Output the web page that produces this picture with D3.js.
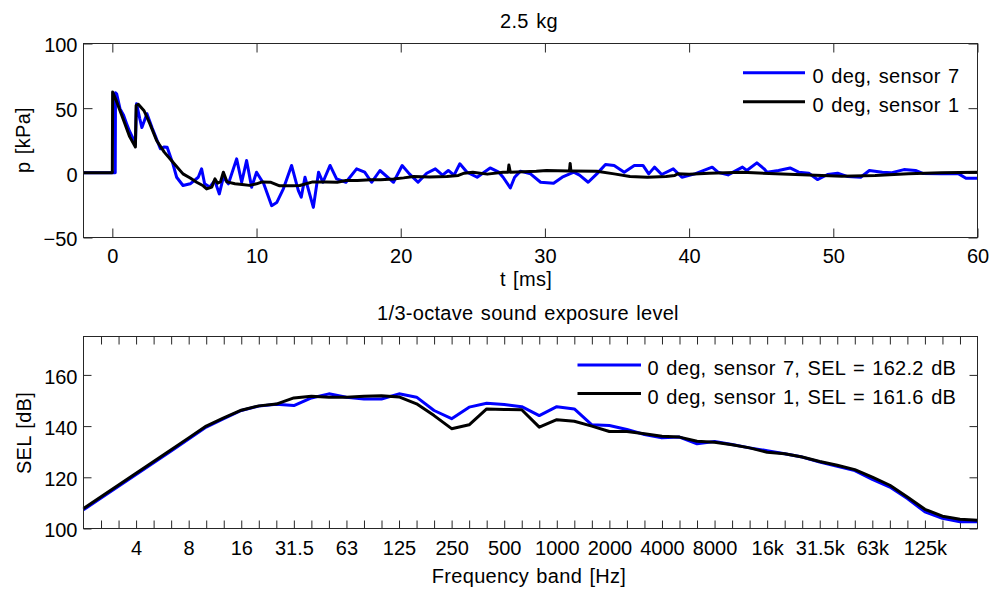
<!DOCTYPE html>
<html><head><meta charset="utf-8">
<script src="https://cdn.jsdelivr.net/npm/d3@7"></script>
<style>
body{margin:0;background:#fff;}
svg text{font-family:"Liberation Sans",Arial,Helvetica,sans-serif;fill:#000;}
</style></head><body>
<svg id="chart" width="990" height="590"></svg>
<script>
// ---------- Data: time histories (top) ----------
const seriesNames = ["0 deg, sensor 7", "0 deg, sensor 1"];
const selNames = ["0 deg, sensor 7, SEL = 162.2 dB", "0 deg, sensor 1, SEL = 161.6 dB"];

const t7 = [-2,0.2,0.22,0.3,0.53,0.76,0.99,1.2,1.46,1.6,1.68,1.9,2.05,2.4,2.75,3.0,3.33,3.6,3.8,4.2,4.46,4.9,5.4,5.96,6.19,6.4,6.75,7.1,7.42,7.7,8.05,8.62,8.97,9.31,9.66,10.0,10.5,11.05,11.4,11.86,12.43,12.9,13.1,13.36,13.94,14.3,14.6,15.1,15.55,16.2,16.94,17.5,17.98,18.56,19.5,20.1,20.6,21.2,21.8,22.4,22.9,23.3,23.7,24.1,24.6,25.3,26.2,26.8,27.1,27.6,27.9,28.3,29.0,29.7,30.6,31.2,32.0,32.4,33.0,33.6,34.2,34.8,35.5,36.2,36.8,37.2,37.6,38.1,38.9,39.5,40.4,41.6,42.0,42.7,43.7,44.0,44.7,45.2,45.4,46.2,47.0,47.6,48.3,48.9,49.6,50.3,51.0,51.9,52.5,53.4,54.0,54.9,55.7,56.2,57.5,58.7,59.2,60];
const p7 = [0,0,62,61,49.6,45,38,32,26,22,53.5,42,35,45.7,35,28,18.6,20,19.8,7,-3.4,-9.8,-8.5,-3.4,3.1,-8.5,-11,-6,-16.3,-3.4,-8.5,10.8,-7.3,9.5,-11.1,0.5,-8.5,-25.4,-23,-12.4,5.7,-13.7,-18.8,-3.4,-26.7,0.5,-7.3,5.7,-4.7,-7.3,3.1,0.5,-7.3,1.8,-7.3,5.7,-0.8,-7.3,-0.3,3.1,-1.8,1.8,-1.8,7,0.5,-3.4,3.8,0.5,-3.4,-11.7,-3.4,1.3,-0.8,-7.3,-8,-3.4,0.5,-1.8,-7.3,-0.8,6.4,5.7,0.5,5.7,5.7,-0.8,4.4,-1.3,3.1,-3.4,-0.8,4.4,0.5,-1.6,4.4,1.8,7.7,3.1,0.5,1.8,3.8,0.5,-0.3,-5.2,-1.3,-0.3,-2.9,-3.4,1.8,0.5,0,2.5,1.8,-0.5,-0.8,-0.8,-4.2,-4.2];

const t1 = [-2,0,0.02,0.3,0.8,1.2,1.6,1.65,1.8,2.2,2.6,3.07,3.6,4.1,4.9,5.4,5.85,6.3,6.54,6.9,7.0,7.12,7.3,7.5,7.7,7.95,8.5,9.0,9.5,10.0,10.4,11.0,11.6,12.5,13.0,13.9,14.8,15.6,16.2,17.0,17.9,18.6,19.5,20.2,20.9,22.0,23.2,24.0,24.4,25.0,26.0,27.1,27.45,27.5,27.6,29.4,30.1,31.7,31.75,31.8,31.9,33.6,34.8,35.9,37.1,38.4,39.0,39.2,40.0,41.4,43.7,46.0,48.3,50.6,52.9,55.2,57.5,60];
const p1 = [0,0,62.5,55,40,28,20,52,53,48,38,25,16,9.5,-0.8,-4,-7.3,-10,-12.4,-11,-8,-4.7,-8,-7,0.5,-7,-8.5,-9,-9.7,-8.5,-7,-7.3,-10,-10,-9.8,-7,-7,-7.3,-6,-6,-5.4,-5.4,-4.7,-3.9,-2.9,-3.2,-2.9,-2,-0.3,0.5,-1,0.5,0.5,6,0.5,1.3,1.8,1.5,7.3,1.5,1.5,1.3,-0.8,-2.9,-3.4,-2.9,-2.1,-0.8,-1,-0.3,0.5,-0.8,-1.6,-2.6,-2.1,-0.8,0,0.5];

const tTicks = [0,10,20,30,40,50,60];
const pTicks = [-50,0,50,100];

// ---------- Data: 1/3-octave SEL (bottom) ----------
// band index relative to the 4 Hz band: -3 (2 Hz) ... 48
const bandIdx = d3.range(-3, 49);
const sel7 = [107.3,111.9,116.5,121.1,125.7,130.3,135.0,139.6,142.9,146.1,147.8,148.5,148.0,151.0,152.6,151.3,150.6,150.6,152.6,151.3,146.1,142.9,147.4,148.9,148.4,147.6,144.1,147.6,146.7,140.5,140.2,138.7,136.7,135.4,135.7,133.1,134.0,132.8,131.5,130.4,129.2,127.9,126.0,124.3,122.6,119.2,116.2,111.7,106.5,104.0,102.6,102.6];
const sel1 = [107.8,112.4,117.0,121.6,126.2,130.8,135.4,140.0,143.2,146.2,147.9,148.6,151.0,151.7,151.3,151.3,151.7,151.9,151.4,148.7,144.1,139.0,140.5,146.7,146.5,146.4,139.6,142.5,141.9,140.0,137.9,137.9,137.0,136.0,135.7,134.1,133.7,132.7,131.5,129.8,129.2,127.9,126.2,124.7,123.0,120.1,116.9,112.3,107.5,104.8,103.6,103.2];
const bandLabels = ["4","8","16","31.5","63","125","250","500","1000","2000","4000","8000","16k","31.5k","63k","125k"];
const selTicks = [100,120,140,160];

const colors = ["#0000ff", "#000000"];

// ---------- Drawing ----------
const svg = d3.select("#chart");
svg.append("rect").attr("width",990).attr("height",590).attr("fill","#fff");
const FS = 20;
const axisColor = "#262626";
const LW = 3;

function styleAxis(g){
  g.select(".domain").remove();
  g.selectAll(".tick line").attr("stroke",axisColor).attr("stroke-width",1);
  g.selectAll("text").attr("font-size",FS).attr("font-family",'"Liberation Sans",Arial,sans-serif').attr("fill","#000");
}

function frame(L,R,T,B){
  svg.append("rect").attr("x",L).attr("y",T).attr("width",R-L).attr("height",B-T)
    .attr("fill","none").attr("stroke",axisColor).attr("stroke-width",1);
}

// Top panel
const T = {L:83.5, R:977.5, T:43.5, B:237.5};
const xT = d3.scaleLinear().domain([-2,60]).range([T.L,T.R]);
const yT = d3.scaleLinear().domain([-50,100]).range([T.B,T.T]);

svg.append("g").attr("transform",`translate(0,${T.B})`)
  .call(d3.axisBottom(xT).tickValues(tTicks).tickSizeInner(-9).tickSizeOuter(0).tickPadding(11.5))
  .call(styleAxis);
svg.append("g").attr("transform",`translate(0,${T.T})`)
  .call(d3.axisTop(xT).tickValues(tTicks).tickSizeInner(-9).tickSizeOuter(0).tickFormat(""))
  .call(styleAxis);
svg.append("g").attr("transform",`translate(${T.L},0)`)
  .call(d3.axisLeft(yT).tickValues(pTicks).tickSizeInner(-9).tickSizeOuter(0).tickPadding(6))
  .call(styleAxis).selectAll("text").attr("dy","0.42em");
svg.append("g").attr("transform",`translate(${T.R},0)`)
  .call(d3.axisRight(yT).tickValues(pTicks).tickSizeInner(-9).tickSizeOuter(0).tickFormat(""))
  .call(styleAxis);

const lineT = d3.line().x(d=>xT(d[0])).y(d=>yT(d[1]));
const data7 = t7.map((t,i)=>[t,p7[i]]);
const data1 = t1.map((t,i)=>[t,p1[i]]);
svg.append("path").datum(data7).attr("d",lineT).attr("fill","none").attr("stroke",colors[0]).attr("stroke-width",LW).attr("stroke-linejoin","round");
svg.append("path").datum(data1).attr("d",lineT).attr("fill","none").attr("stroke",colors[1]).attr("stroke-width",LW).attr("stroke-linejoin","round");
frame(T.L,T.R,T.T,T.B);

// Bottom panel
const B = {L:83.5, R:977.5, T:336.5, B:528.5};
const xB = d3.scaleLinear().domain([-3,48]).range([B.L,B.R]);
const yB = d3.scaleLinear().domain([100,175]).range([B.B,B.T]);
const bandTicks = d3.range(-2,48);
const bandFmt = i => (i>=0 && i%3===0 && i/3 < bandLabels.length) ? bandLabels[i/3] : "";

svg.append("g").attr("transform",`translate(0,${B.B})`)
  .call(d3.axisBottom(xB).tickValues(bandTicks).tickSizeInner(-8).tickSizeOuter(0).tickPadding(12.5).tickFormat(bandFmt))
  .call(styleAxis);
svg.append("g").attr("transform",`translate(0,${B.T})`)
  .call(d3.axisTop(xB).tickValues(bandTicks).tickSizeInner(-8).tickSizeOuter(0).tickFormat(""))
  .call(styleAxis);
svg.append("g").attr("transform",`translate(${B.L},0)`)
  .call(d3.axisLeft(yB).tickValues(selTicks).tickSizeInner(-8).tickSizeOuter(0).tickPadding(6))
  .call(styleAxis).selectAll("text").attr("dy","0.42em");
svg.append("g").attr("transform",`translate(${B.R},0)`)
  .call(d3.axisRight(yB).tickValues(selTicks).tickSizeInner(-8).tickSizeOuter(0).tickFormat(""))
  .call(styleAxis);

const lineB = d3.line().x((d,i)=>xB(bandIdx[i])).y(d=>yB(d));
svg.append("path").datum(sel7).attr("d",lineB).attr("fill","none").attr("stroke",colors[0]).attr("stroke-width",LW).attr("stroke-linejoin","round");
svg.append("path").datum(sel1).attr("d",lineB).attr("fill","none").attr("stroke",colors[1]).attr("stroke-width",LW).attr("stroke-linejoin","round");
frame(B.L,B.R,B.T,B.B);

// Titles & labels
function txt(x,y,s,opts={}){
  const t = svg.append("text").attr("x",x).attr("y",y).text(s)
    .attr("font-size",opts.fs||FS).attr("text-anchor",opts.anchor||"middle")
    .style("letter-spacing","0.3px")
    .style("word-spacing","1.5px");
  if(opts.rotate) t.attr("transform",`rotate(-90,${x},${y})`);
  return t;
}
txt(529,28,"2.5 kg");
txt(526,286,"t [ms]");
txt(528,320,"1/3-octave sound exposure level");
txt(529,583,"Frequency band [Hz]");
txt(30,140,"p [kPa]",{rotate:true});
txt(31,433,"SEL [dB]",{rotate:true});

// Legends
function legend(x0,x1,xt,ys,names){
  names.forEach((n,i)=>{
    svg.append("line").attr("x1",x0).attr("x2",x1).attr("y1",ys[i]).attr("y2",ys[i])
      .attr("stroke",colors[i]).attr("stroke-width",LW);
    txt(xt,ys[i]+10,n,{anchor:"start"});
  });
}
legend(743,805,812.5,[72.7,101.7],seriesNames);
legend(577.5,641,647.5,[365,393.5],selNames);
</script>
</body></html>
